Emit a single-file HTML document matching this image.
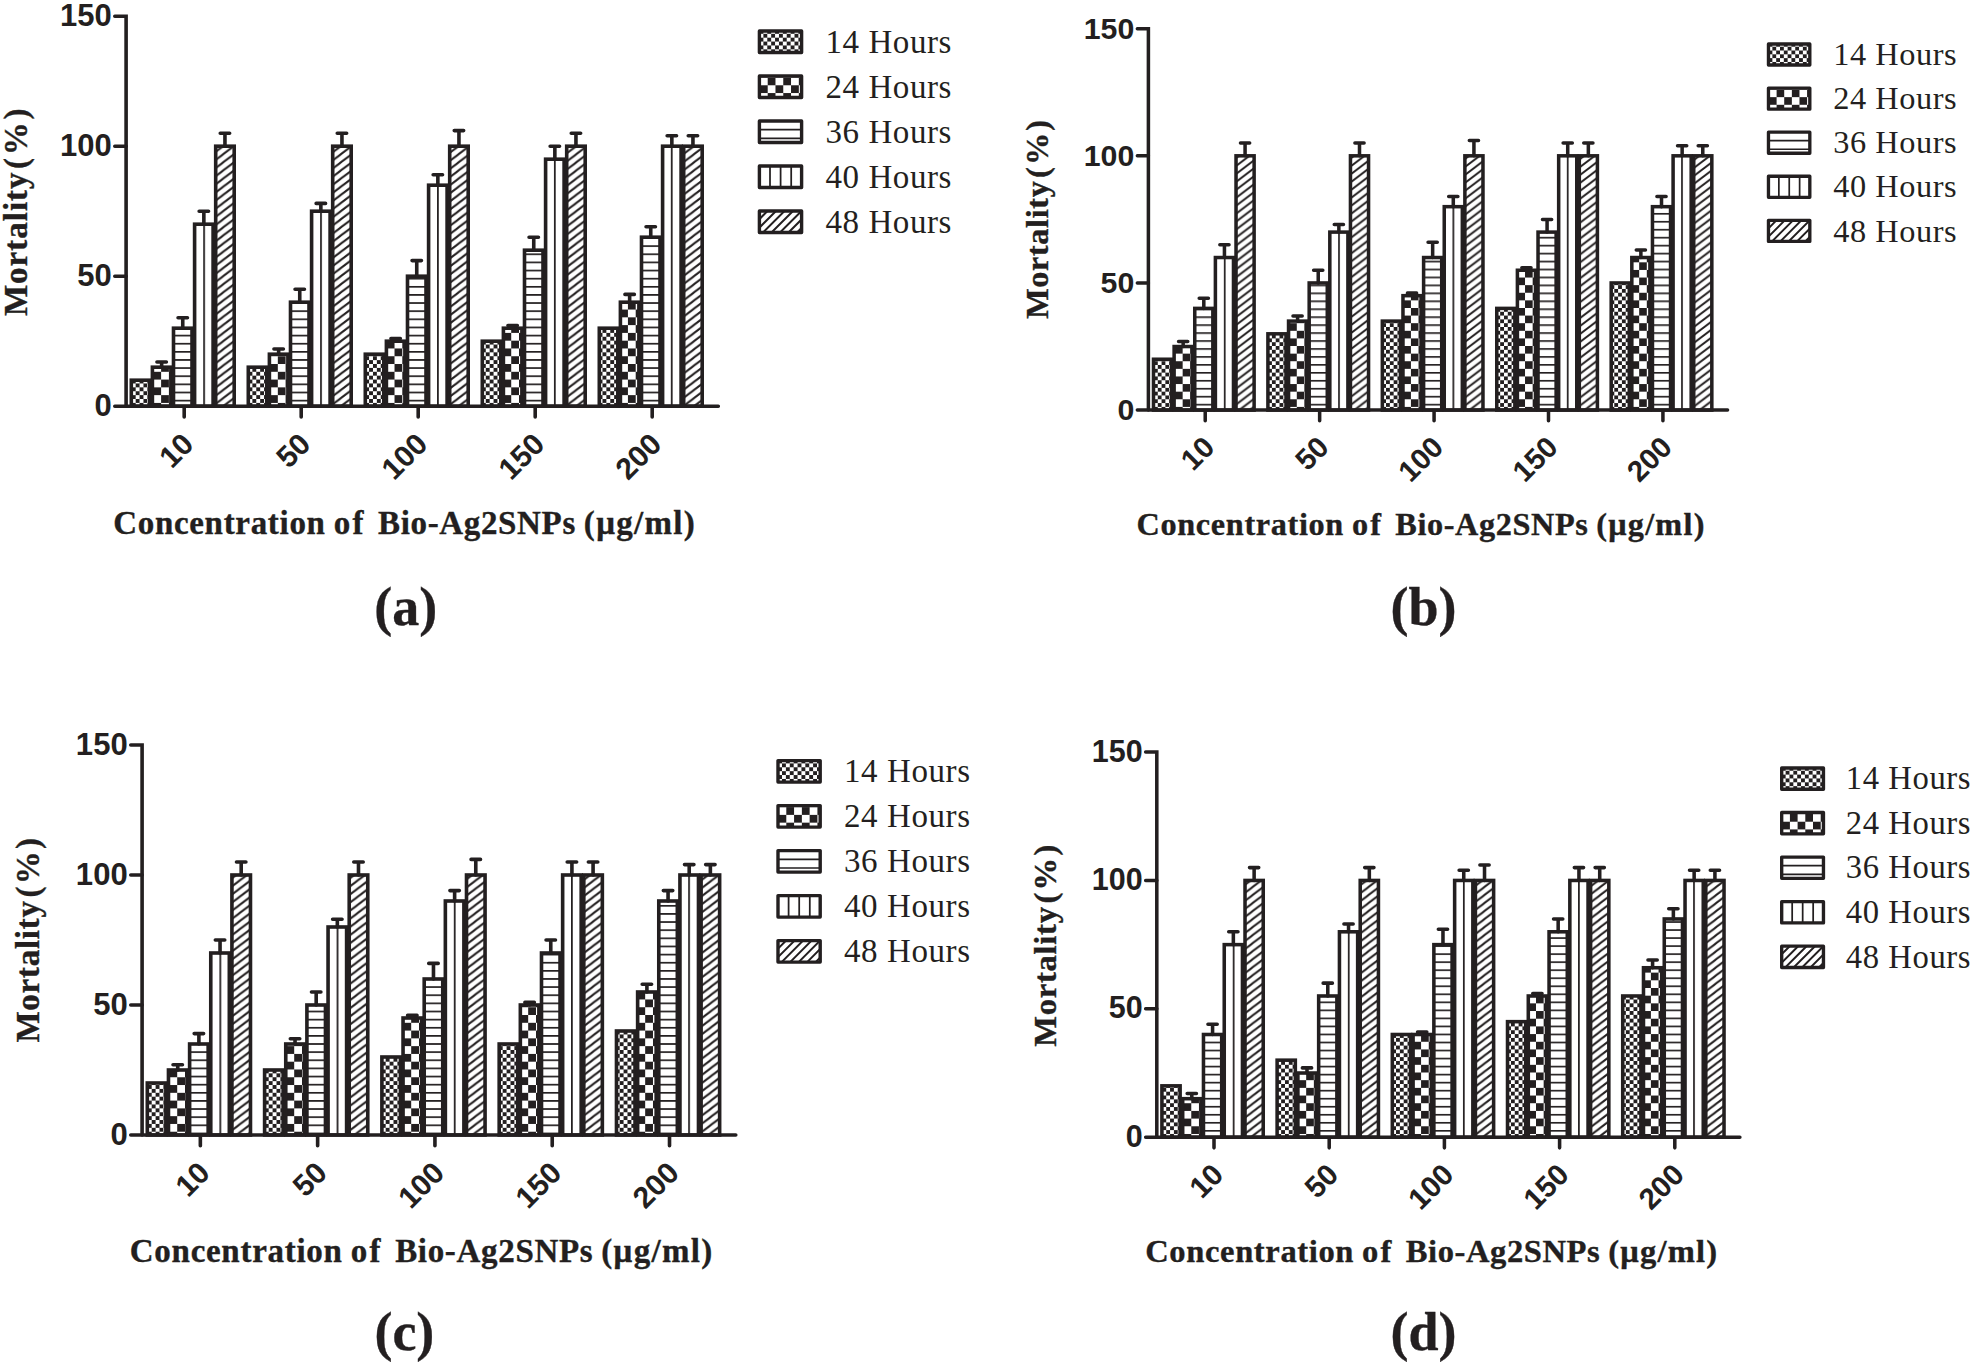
<!DOCTYPE html>
<html lang="en"><head><meta charset="utf-8"><title>Mortality (%) vs Concentration of Bio-Ag2SNPs</title>
<style>html,body{margin:0;padding:0;background:#fff}body{width:1970px;height:1368px;overflow:hidden}svg{display:block}.sans{font-family:"Liberation Sans",Arial,Helvetica,sans-serif;font-weight:700}.serif{font-family:"Liberation Serif","Times New Roman",Times,serif}.b{font-weight:700;stroke:#231f20;stroke-width:.35px}text{fill:#231f20}</style></head><body>
<svg width="1970" height="1368" viewBox="0 0 1970 1368">
<rect width="1970" height="1368" fill="#fff"/>
<defs>
<pattern id="p14" patternUnits="userSpaceOnUse" width="7.78" height="7.78" patternTransform="translate(1.8 0.6)"><rect width="7.78" height="7.78" fill="#fff"/><rect width="3.89" height="3.89" fill="#231f20"/><rect x="3.89" y="3.89" width="3.89" height="3.89" fill="#231f20"/></pattern>
<pattern id="p24" patternUnits="userSpaceOnUse" width="15.56" height="15.56" patternTransform="translate(3.9 4.5)"><rect width="15.56" height="15.56" fill="#fff"/><rect width="7.78" height="7.78" fill="#231f20"/><rect x="7.78" y="7.78" width="7.78" height="7.78" fill="#231f20"/></pattern>
<pattern id="p36a" patternUnits="userSpaceOnUse" width="20" height="8.13" patternTransform="translate(0 1.68)"><rect width="20" height="8.13" fill="#fff"/><rect y="0" width="20" height="1.7" fill="#231f20"/></pattern>
<pattern id="p36b" patternUnits="userSpaceOnUse" width="20" height="8.13" patternTransform="translate(0 1.68)"><rect width="20" height="8.13" fill="#fff"/><rect y="0" width="20" height="1.7" fill="#231f20"/></pattern>
<pattern id="p36c" patternUnits="userSpaceOnUse" width="20" height="8.13" patternTransform="translate(0 5.71)"><rect width="20" height="8.13" fill="#fff"/><rect y="0" width="20" height="1.7" fill="#231f20"/></pattern>
<pattern id="p36d" patternUnits="userSpaceOnUse" width="20" height="8.13" patternTransform="translate(0 0.78)"><rect width="20" height="8.13" fill="#fff"/><rect y="0" width="20" height="1.7" fill="#231f20"/></pattern>
<pattern id="p40" patternUnits="userSpaceOnUse" width="11.69" height="20" patternTransform="translate(6.99 0)"><rect width="11.69" height="20" fill="#fff"/><rect width="1.75" height="20" fill="#231f20"/></pattern>
<pattern id="p48a" patternUnits="userSpaceOnUse" width="10.7" height="8.13" patternTransform="translate(0 0.66)"><rect width="10.7" height="8.13" fill="#fff"/><path d="M-10.7 8.13 L10.7 -8.13 M-10.7 16.26 L21.4 -8.13 M0 16.26 L21.4 0" stroke="#231f20" stroke-width="2" fill="none"/></pattern>
<pattern id="p48b" patternUnits="userSpaceOnUse" width="10.7" height="8.13" patternTransform="translate(0 5.5)"><rect width="10.7" height="8.13" fill="#fff"/><path d="M-10.7 8.13 L10.7 -8.13 M-10.7 16.26 L21.4 -8.13 M0 16.26 L21.4 0" stroke="#231f20" stroke-width="2" fill="none"/></pattern>
<pattern id="p48c" patternUnits="userSpaceOnUse" width="10.7" height="8.13" patternTransform="translate(0 6.46)"><rect width="10.7" height="8.13" fill="#fff"/><path d="M-10.7 8.13 L10.7 -8.13 M-10.7 16.26 L21.4 -8.13 M0 16.26 L21.4 0" stroke="#231f20" stroke-width="2" fill="none"/></pattern>
<pattern id="p48d" patternUnits="userSpaceOnUse" width="10.7" height="8.13" patternTransform="translate(0 7.6)"><rect width="10.7" height="8.13" fill="#fff"/><path d="M-10.7 8.13 L10.7 -8.13 M-10.7 16.26 L21.4 -8.13 M0 16.26 L21.4 0" stroke="#231f20" stroke-width="2" fill="none"/></pattern>
<pattern id="l24" patternUnits="userSpaceOnUse" width="15.56" height="15.56" patternTransform="translate(10 3.2)"><rect width="15.56" height="15.56" fill="#fff"/><rect width="7.78" height="7.78" fill="#231f20"/><rect x="7.78" y="7.78" width="7.78" height="7.78" fill="#231f20"/></pattern>
</defs>
<g transform="translate(126.1 406.2) scale(1.0000 1.0000)">
<g stroke="#231f20" stroke-width="3.6" stroke-linejoin="miter">
<rect x="5.2" y="-26" width="18.5" height="26" fill="url(#p14)"/>
<rect x="26.3" y="-39" width="18.5" height="39" fill="url(#p24)"/>
<rect x="47.4" y="-78" width="18.5" height="78" fill="url(#p36a)"/>
<rect x="68.5" y="-182" width="18.5" height="182" fill="url(#p40)"/>
<rect x="89.6" y="-260" width="18.5" height="260" fill="url(#p48a)"/>
<rect x="122.2" y="-39" width="18.5" height="39" fill="url(#p14)"/>
<rect x="143.3" y="-52" width="18.5" height="52" fill="url(#p24)"/>
<rect x="164.4" y="-104" width="18.5" height="104" fill="url(#p36a)"/>
<rect x="185.5" y="-195" width="18.5" height="195" fill="url(#p40)"/>
<rect x="206.6" y="-260" width="18.5" height="260" fill="url(#p48a)"/>
<rect x="239.2" y="-52" width="18.5" height="52" fill="url(#p14)"/>
<rect x="260.3" y="-65" width="18.5" height="65" fill="url(#p24)"/>
<rect x="281.4" y="-130" width="18.5" height="130" fill="url(#p36a)"/>
<rect x="302.5" y="-221" width="18.5" height="221" fill="url(#p40)"/>
<rect x="323.6" y="-260" width="18.5" height="260" fill="url(#p48a)"/>
<rect x="356.2" y="-65" width="18.5" height="65" fill="url(#p14)"/>
<rect x="377.3" y="-78" width="18.5" height="78" fill="url(#p24)"/>
<rect x="398.4" y="-156" width="18.5" height="156" fill="url(#p36a)"/>
<rect x="419.5" y="-247" width="18.5" height="247" fill="url(#p40)"/>
<rect x="440.6" y="-260" width="18.5" height="260" fill="url(#p48a)"/>
<rect x="473.2" y="-78" width="18.5" height="78" fill="url(#p14)"/>
<rect x="494.3" y="-104" width="18.5" height="104" fill="url(#p24)"/>
<rect x="515.4" y="-169" width="18.5" height="169" fill="url(#p36a)"/>
<rect x="536.5" y="-260" width="18.5" height="260" fill="url(#p40)"/>
<rect x="557.6" y="-260" width="18.5" height="260" fill="url(#p48a)"/>
<path d="M35.55 -39V-44.2M30.85 -44.2H40.25M56.65 -78V-88.4M51.95 -88.4H61.35M77.75 -182V-195M73.05 -195H82.45M98.85 -260V-273M94.15 -273H103.55M152.55 -52V-57.2M147.85 -57.2H157.25M173.65 -104V-117M168.95 -117H178.35M194.75 -195V-202.8M190.05 -202.8H199.45M215.85 -260V-273M211.15 -273H220.55M269.55 -65V-67.6M264.85 -67.6H274.25M290.65 -130V-145.6M285.95 -145.6H295.35M311.75 -221V-231.4M307.05 -231.4H316.45M332.85 -260V-275.6M328.15 -275.6H337.55M386.55 -78V-80.6M381.85 -80.6H391.25M407.65 -156V-169M402.95 -169H412.35M428.75 -247V-260M424.05 -260H433.45M449.85 -260V-273M445.15 -273H454.55M503.55 -104V-111.8M498.85 -111.8H508.25M524.65 -169V-179.4M519.95 -179.4H529.35M545.75 -260V-270.4M541.05 -270.4H550.45M566.85 -260V-270.4M562.15 -270.4H571.55" fill="none" stroke-linecap="round"/>
<path d="M-11.3 -390H0V0" fill="none" stroke-linecap="round"/>
<path d="M-11.3 0H592.2M-11.3 -130H0M-11.3 -260H0M58.1 0V10.8M175.1 0V10.8M292.1 0V10.8M409.1 0V10.8M526.1 0V10.8" fill="none" stroke-linecap="round"/>
</g>
<g class="sans" font-size="31" text-anchor="end">
<text x="-14.4" y="9.7">0</text>
<text x="-14.4" y="-120.3">50</text>
<text x="-14.4" y="-250.3">100</text>
<text x="-14.4" y="-380.3">150</text>
</g>
<g class="sans" font-size="30" text-anchor="end">
<text transform="translate(69.3 39.7) rotate(-45)">10</text>
<text transform="translate(186.3 39.7) rotate(-45)">50</text>
<text transform="translate(303.3 39.7) rotate(-45)">100</text>
<text transform="translate(420.3 39.7) rotate(-45)">150</text>
<text transform="translate(537.3 39.7) rotate(-45)">200</text>
</g>
</g>
<g transform="translate(757.7 29.3) scale(1)">
<g transform="translate(0 0)">
<rect x="1.7" y="1.7" width="42.2" height="21.5" fill="#fff"/>
<rect x="1.7" y="1.7" width="42.2" height="21.5" fill="url(#p14)"/>
<rect x="1.7" y="1.7" width="42.2" height="21.5" fill="none" stroke="#231f20" stroke-width="3.4" stroke-linejoin="round"/>
<text class="serif" font-size="33" x="67.7" y="23.3" textLength="126" lengthAdjust="spacing">14 Hours</text>
</g>
<g transform="translate(0 45)">
<rect x="1.7" y="1.7" width="42.2" height="21.5" fill="#fff"/>
<rect x="1.7" y="1.7" width="42.2" height="21.5" fill="url(#l24)"/>
<rect x="1.7" y="1.7" width="42.2" height="21.5" fill="none" stroke="#231f20" stroke-width="3.4" stroke-linejoin="round"/>
<text class="serif" font-size="33" x="67.7" y="23.3" textLength="126" lengthAdjust="spacing">24 Hours</text>
</g>
<g transform="translate(0 90)">
<rect x="1.7" y="1.7" width="42.2" height="21.5" fill="#fff"/>
<path d="M2 10.4H44M2 19.1H44" stroke="#231f20" stroke-width="1.7" fill="none"/>
<rect x="1.7" y="1.7" width="42.2" height="21.5" fill="none" stroke="#231f20" stroke-width="3.4" stroke-linejoin="round"/>
<text class="serif" font-size="33" x="67.7" y="23.3" textLength="126" lengthAdjust="spacing">36 Hours</text>
</g>
<g transform="translate(0 135)">
<rect x="1.7" y="1.7" width="42.2" height="21.5" fill="#fff"/>
<path d="M12.3 2V23M22.9 2V23M33.5 2V23" stroke="#231f20" stroke-width="1.75" fill="none"/>
<rect x="1.7" y="1.7" width="42.2" height="21.5" fill="none" stroke="#231f20" stroke-width="3.4" stroke-linejoin="round"/>
<text class="serif" font-size="33" x="67.7" y="23.3" textLength="126" lengthAdjust="spacing">40 Hours</text>
</g>
<g transform="translate(0 180)">
<rect x="1.7" y="1.7" width="42.2" height="21.5" fill="#fff"/>
<clipPath id="lca"><rect x="1.7" y="1.7" width="42.2" height="21.5"/></clipPath>
<path d="M-28.7 23.2L-7.2 1.7M-20.2 23.2L1.3 1.7M-11.7 23.2L9.8 1.7M-3.2 23.2L18.3 1.7M5.3 23.2L26.8 1.7M13.8 23.2L35.3 1.7M22.3 23.2L43.8 1.7M30.8 23.2L52.3 1.7M39.3 23.2L60.8 1.7M47.8 23.2L69.3 1.7" stroke="#231f20" stroke-width="2" fill="none" clip-path="url(#lca)"/>
<rect x="1.7" y="1.7" width="42.2" height="21.5" fill="none" stroke="#231f20" stroke-width="3.4" stroke-linejoin="round"/>
<text class="serif" font-size="33" x="67.7" y="23.3" textLength="126" lengthAdjust="spacing">48 Hours</text>
</g>
</g>
<g class="serif b" font-size="33" transform="translate(27.4 315.45) rotate(-90)">
<text x="-0.6" y="0" textLength="143.63" lengthAdjust="spacing">Mortality</text>
<text x="146.53" y="0" textLength="60.47" lengthAdjust="spacing">(%)</text>
</g>
<g class="serif b" font-size="33">
<text x="113.2" y="533.5" textLength="211.73" lengthAdjust="spacing">Concentration</text>
<text x="333.72" y="533.5" textLength="29.79" lengthAdjust="spacing">of</text>
<text x="378.11" y="533.5" textLength="197.13" lengthAdjust="spacing">Bio-Ag2SNPs</text>
<text x="583.84" y="533.5" textLength="110.86" lengthAdjust="spacing">(μg/ml)</text>
</g>
<text class="serif b" font-size="54" text-anchor="middle" x="405.7" y="624.5">(a)</text>
<g transform="translate(1148.4 410.1) scale(0.9780 0.9780)">
<g stroke="#231f20" stroke-width="3.6" stroke-linejoin="miter">
<rect x="5.2" y="-52" width="18.5" height="52" fill="url(#p14)"/>
<rect x="26.3" y="-65" width="18.5" height="65" fill="url(#p24)"/>
<rect x="47.4" y="-104" width="18.5" height="104" fill="url(#p36b)"/>
<rect x="68.5" y="-156" width="18.5" height="156" fill="url(#p40)"/>
<rect x="89.6" y="-260" width="18.5" height="260" fill="url(#p48b)"/>
<rect x="122.2" y="-78" width="18.5" height="78" fill="url(#p14)"/>
<rect x="143.3" y="-91" width="18.5" height="91" fill="url(#p24)"/>
<rect x="164.4" y="-130" width="18.5" height="130" fill="url(#p36b)"/>
<rect x="185.5" y="-182" width="18.5" height="182" fill="url(#p40)"/>
<rect x="206.6" y="-260" width="18.5" height="260" fill="url(#p48b)"/>
<rect x="239.2" y="-91" width="18.5" height="91" fill="url(#p14)"/>
<rect x="260.3" y="-117" width="18.5" height="117" fill="url(#p24)"/>
<rect x="281.4" y="-156" width="18.5" height="156" fill="url(#p36b)"/>
<rect x="302.5" y="-208" width="18.5" height="208" fill="url(#p40)"/>
<rect x="323.6" y="-260" width="18.5" height="260" fill="url(#p48b)"/>
<rect x="356.2" y="-104" width="18.5" height="104" fill="url(#p14)"/>
<rect x="377.3" y="-143" width="18.5" height="143" fill="url(#p24)"/>
<rect x="398.4" y="-182" width="18.5" height="182" fill="url(#p36b)"/>
<rect x="419.5" y="-260" width="18.5" height="260" fill="url(#p40)"/>
<rect x="440.6" y="-260" width="18.5" height="260" fill="url(#p48b)"/>
<rect x="473.2" y="-130" width="18.5" height="130" fill="url(#p14)"/>
<rect x="494.3" y="-156" width="18.5" height="156" fill="url(#p24)"/>
<rect x="515.4" y="-208" width="18.5" height="208" fill="url(#p36b)"/>
<rect x="536.5" y="-260" width="18.5" height="260" fill="url(#p40)"/>
<rect x="557.6" y="-260" width="18.5" height="260" fill="url(#p48b)"/>
<path d="M35.55 -65V-70.2M30.85 -70.2H40.25M56.65 -104V-114.4M51.95 -114.4H61.35M77.75 -156V-169M73.05 -169H82.45M98.85 -260V-273M94.15 -273H103.55M152.55 -91V-96.2M147.85 -96.2H157.25M173.65 -130V-143M168.95 -143H178.35M194.75 -182V-189.8M190.05 -189.8H199.45M215.85 -260V-273M211.15 -273H220.55M269.55 -117V-119.6M264.85 -119.6H274.25M290.65 -156V-171.6M285.95 -171.6H295.35M311.75 -208V-218.4M307.05 -218.4H316.45M332.85 -260V-275.6M328.15 -275.6H337.55M386.55 -143V-145.6M381.85 -145.6H391.25M407.65 -182V-195M402.95 -195H412.35M428.75 -260V-273M424.05 -273H433.45M449.85 -260V-273M445.15 -273H454.55M503.55 -156V-163.8M498.85 -163.8H508.25M524.65 -208V-218.4M519.95 -218.4H529.35M545.75 -260V-270.4M541.05 -270.4H550.45M566.85 -260V-270.4M562.15 -270.4H571.55" fill="none" stroke-linecap="round"/>
<path d="M-11.3 -390H0V0" fill="none" stroke-linecap="round"/>
<path d="M-11.3 0H592.2M-11.3 -130H0M-11.3 -260H0M58.1 0V10.8M175.1 0V10.8M292.1 0V10.8M409.1 0V10.8M526.1 0V10.8" fill="none" stroke-linecap="round"/>
</g>
<g class="sans" font-size="31" text-anchor="end">
<text x="-14.4" y="10.1">0</text>
<text x="-14.4" y="-119.9">50</text>
<text x="-14.4" y="-249.9">100</text>
<text x="-14.4" y="-379.9">150</text>
</g>
<g class="sans" font-size="30" text-anchor="end">
<text transform="translate(69.3 39.7) rotate(-45)">10</text>
<text transform="translate(186.3 39.7) rotate(-45)">50</text>
<text transform="translate(303.3 39.7) rotate(-45)">100</text>
<text transform="translate(420.3 39.7) rotate(-45)">150</text>
<text transform="translate(537.3 39.7) rotate(-45)">200</text>
</g>
</g>
<g transform="translate(1766.8 42.3) scale(0.98)">
<g transform="translate(0 0)">
<rect x="1.7" y="1.7" width="42.2" height="21.5" fill="#fff"/>
<rect x="1.7" y="1.7" width="42.2" height="21.5" fill="url(#p14)"/>
<rect x="1.7" y="1.7" width="42.2" height="21.5" fill="none" stroke="#231f20" stroke-width="3.4" stroke-linejoin="round"/>
<text class="serif" font-size="33" x="67.7" y="23.3" textLength="126" lengthAdjust="spacing">14 Hours</text>
</g>
<g transform="translate(0 45)">
<rect x="1.7" y="1.7" width="42.2" height="21.5" fill="#fff"/>
<rect x="1.7" y="1.7" width="42.2" height="21.5" fill="url(#l24)"/>
<rect x="1.7" y="1.7" width="42.2" height="21.5" fill="none" stroke="#231f20" stroke-width="3.4" stroke-linejoin="round"/>
<text class="serif" font-size="33" x="67.7" y="23.3" textLength="126" lengthAdjust="spacing">24 Hours</text>
</g>
<g transform="translate(0 90)">
<rect x="1.7" y="1.7" width="42.2" height="21.5" fill="#fff"/>
<path d="M2 10.4H44M2 19.1H44" stroke="#231f20" stroke-width="1.7" fill="none"/>
<rect x="1.7" y="1.7" width="42.2" height="21.5" fill="none" stroke="#231f20" stroke-width="3.4" stroke-linejoin="round"/>
<text class="serif" font-size="33" x="67.7" y="23.3" textLength="126" lengthAdjust="spacing">36 Hours</text>
</g>
<g transform="translate(0 135)">
<rect x="1.7" y="1.7" width="42.2" height="21.5" fill="#fff"/>
<path d="M12.3 2V23M22.9 2V23M33.5 2V23" stroke="#231f20" stroke-width="1.75" fill="none"/>
<rect x="1.7" y="1.7" width="42.2" height="21.5" fill="none" stroke="#231f20" stroke-width="3.4" stroke-linejoin="round"/>
<text class="serif" font-size="33" x="67.7" y="23.3" textLength="126" lengthAdjust="spacing">40 Hours</text>
</g>
<g transform="translate(0 180)">
<rect x="1.7" y="1.7" width="42.2" height="21.5" fill="#fff"/>
<clipPath id="lcb"><rect x="1.7" y="1.7" width="42.2" height="21.5"/></clipPath>
<path d="M-28.7 23.2L-7.2 1.7M-20.2 23.2L1.3 1.7M-11.7 23.2L9.8 1.7M-3.2 23.2L18.3 1.7M5.3 23.2L26.8 1.7M13.8 23.2L35.3 1.7M22.3 23.2L43.8 1.7M30.8 23.2L52.3 1.7M39.3 23.2L60.8 1.7M47.8 23.2L69.3 1.7" stroke="#231f20" stroke-width="2" fill="none" clip-path="url(#lcb)"/>
<rect x="1.7" y="1.7" width="42.2" height="21.5" fill="none" stroke="#231f20" stroke-width="3.4" stroke-linejoin="round"/>
<text class="serif" font-size="33" x="67.7" y="23.3" textLength="126" lengthAdjust="spacing">48 Hours</text>
</g>
</g>
<g class="serif b" font-size="32.27" transform="translate(1048.4 318.2) rotate(-90)">
<text x="-0.59" y="0" textLength="137.56" lengthAdjust="spacing">Mortality</text>
<text x="140.29" y="0" textLength="57.97" lengthAdjust="spacing">(%)</text>
</g>
<g class="serif b" font-size="32.27">
<text x="1136.52" y="534.6" textLength="206.79" lengthAdjust="spacing">Concentration</text>
<text x="1351.9" y="534.6" textLength="29.1" lengthAdjust="spacing">of</text>
<text x="1395.25" y="534.6" textLength="192.54" lengthAdjust="spacing">Bio-Ag2SNPs</text>
<text x="1596.19" y="534.6" textLength="108.28" lengthAdjust="spacing">(μg/ml)</text>
</g>
<text class="serif b" font-size="54" text-anchor="middle" x="1423.5" y="624.5">(b)</text>
<g transform="translate(142.1 1135) scale(1.0025 1.0000)">
<g stroke="#231f20" stroke-width="3.6" stroke-linejoin="miter">
<rect x="5.2" y="-52" width="18.5" height="52" fill="url(#p14)"/>
<rect x="26.3" y="-65" width="18.5" height="65" fill="url(#p24)"/>
<rect x="47.4" y="-91" width="18.5" height="91" fill="url(#p36c)"/>
<rect x="68.5" y="-182" width="18.5" height="182" fill="url(#p40)"/>
<rect x="89.6" y="-260" width="18.5" height="260" fill="url(#p48c)"/>
<rect x="122.2" y="-65" width="18.5" height="65" fill="url(#p14)"/>
<rect x="143.3" y="-91" width="18.5" height="91" fill="url(#p24)"/>
<rect x="164.4" y="-130" width="18.5" height="130" fill="url(#p36c)"/>
<rect x="185.5" y="-208" width="18.5" height="208" fill="url(#p40)"/>
<rect x="206.6" y="-260" width="18.5" height="260" fill="url(#p48c)"/>
<rect x="239.2" y="-78" width="18.5" height="78" fill="url(#p14)"/>
<rect x="260.3" y="-117" width="18.5" height="117" fill="url(#p24)"/>
<rect x="281.4" y="-156" width="18.5" height="156" fill="url(#p36c)"/>
<rect x="302.5" y="-234" width="18.5" height="234" fill="url(#p40)"/>
<rect x="323.6" y="-260" width="18.5" height="260" fill="url(#p48c)"/>
<rect x="356.2" y="-91" width="18.5" height="91" fill="url(#p14)"/>
<rect x="377.3" y="-130" width="18.5" height="130" fill="url(#p24)"/>
<rect x="398.4" y="-182" width="18.5" height="182" fill="url(#p36c)"/>
<rect x="419.5" y="-260" width="18.5" height="260" fill="url(#p40)"/>
<rect x="440.6" y="-260" width="18.5" height="260" fill="url(#p48c)"/>
<rect x="473.2" y="-104" width="18.5" height="104" fill="url(#p14)"/>
<rect x="494.3" y="-143" width="18.5" height="143" fill="url(#p24)"/>
<rect x="515.4" y="-234" width="18.5" height="234" fill="url(#p36c)"/>
<rect x="536.5" y="-260" width="18.5" height="260" fill="url(#p40)"/>
<rect x="557.6" y="-260" width="18.5" height="260" fill="url(#p48c)"/>
<path d="M35.55 -65V-70.2M30.85 -70.2H40.25M56.65 -91V-101.4M51.95 -101.4H61.35M77.75 -182V-195M73.05 -195H82.45M98.85 -260V-273M94.15 -273H103.55M152.55 -91V-96.2M147.85 -96.2H157.25M173.65 -130V-143M168.95 -143H178.35M194.75 -208V-215.8M190.05 -215.8H199.45M215.85 -260V-273M211.15 -273H220.55M269.55 -117V-119.6M264.85 -119.6H274.25M290.65 -156V-171.6M285.95 -171.6H295.35M311.75 -234V-244.4M307.05 -244.4H316.45M332.85 -260V-275.6M328.15 -275.6H337.55M386.55 -130V-132.6M381.85 -132.6H391.25M407.65 -182V-195M402.95 -195H412.35M428.75 -260V-273M424.05 -273H433.45M449.85 -260V-273M445.15 -273H454.55M503.55 -143V-150.8M498.85 -150.8H508.25M524.65 -234V-244.4M519.95 -244.4H529.35M545.75 -260V-270.4M541.05 -270.4H550.45M566.85 -260V-270.4M562.15 -270.4H571.55" fill="none" stroke-linecap="round"/>
<path d="M-11.3 -390H0V0" fill="none" stroke-linecap="round"/>
<path d="M-11.3 0H592.2M-11.3 -130H0M-11.3 -260H0M58.1 0V10.8M175.1 0V10.8M292.1 0V10.8M409.1 0V10.8M526.1 0V10.8" fill="none" stroke-linecap="round"/>
</g>
<g class="sans" font-size="31" text-anchor="end">
<text x="-14.4" y="9.7">0</text>
<text x="-14.4" y="-120.3">50</text>
<text x="-14.4" y="-250.3">100</text>
<text x="-14.4" y="-380.3">150</text>
</g>
<g class="sans" font-size="30" text-anchor="end">
<text transform="translate(69.3 39.7) rotate(-45)">10</text>
<text transform="translate(186.3 39.7) rotate(-45)">50</text>
<text transform="translate(303.3 39.7) rotate(-45)">100</text>
<text transform="translate(420.3 39.7) rotate(-45)">150</text>
<text transform="translate(537.3 39.7) rotate(-45)">200</text>
</g>
</g>
<g transform="translate(776.3 758.9) scale(1)">
<g transform="translate(0 0)">
<rect x="1.7" y="1.7" width="42.2" height="21.5" fill="#fff"/>
<rect x="1.7" y="1.7" width="42.2" height="21.5" fill="url(#p14)"/>
<rect x="1.7" y="1.7" width="42.2" height="21.5" fill="none" stroke="#231f20" stroke-width="3.4" stroke-linejoin="round"/>
<text class="serif" font-size="33" x="67.7" y="23.3" textLength="126" lengthAdjust="spacing">14 Hours</text>
</g>
<g transform="translate(0 45)">
<rect x="1.7" y="1.7" width="42.2" height="21.5" fill="#fff"/>
<rect x="1.7" y="1.7" width="42.2" height="21.5" fill="url(#l24)"/>
<rect x="1.7" y="1.7" width="42.2" height="21.5" fill="none" stroke="#231f20" stroke-width="3.4" stroke-linejoin="round"/>
<text class="serif" font-size="33" x="67.7" y="23.3" textLength="126" lengthAdjust="spacing">24 Hours</text>
</g>
<g transform="translate(0 90)">
<rect x="1.7" y="1.7" width="42.2" height="21.5" fill="#fff"/>
<path d="M2 10.4H44M2 19.1H44" stroke="#231f20" stroke-width="1.7" fill="none"/>
<rect x="1.7" y="1.7" width="42.2" height="21.5" fill="none" stroke="#231f20" stroke-width="3.4" stroke-linejoin="round"/>
<text class="serif" font-size="33" x="67.7" y="23.3" textLength="126" lengthAdjust="spacing">36 Hours</text>
</g>
<g transform="translate(0 135)">
<rect x="1.7" y="1.7" width="42.2" height="21.5" fill="#fff"/>
<path d="M12.3 2V23M22.9 2V23M33.5 2V23" stroke="#231f20" stroke-width="1.75" fill="none"/>
<rect x="1.7" y="1.7" width="42.2" height="21.5" fill="none" stroke="#231f20" stroke-width="3.4" stroke-linejoin="round"/>
<text class="serif" font-size="33" x="67.7" y="23.3" textLength="126" lengthAdjust="spacing">40 Hours</text>
</g>
<g transform="translate(0 180)">
<rect x="1.7" y="1.7" width="42.2" height="21.5" fill="#fff"/>
<clipPath id="lcc"><rect x="1.7" y="1.7" width="42.2" height="21.5"/></clipPath>
<path d="M-28.7 23.2L-7.2 1.7M-20.2 23.2L1.3 1.7M-11.7 23.2L9.8 1.7M-3.2 23.2L18.3 1.7M5.3 23.2L26.8 1.7M13.8 23.2L35.3 1.7M22.3 23.2L43.8 1.7M30.8 23.2L52.3 1.7M39.3 23.2L60.8 1.7M47.8 23.2L69.3 1.7" stroke="#231f20" stroke-width="2" fill="none" clip-path="url(#lcc)"/>
<rect x="1.7" y="1.7" width="42.2" height="21.5" fill="none" stroke="#231f20" stroke-width="3.4" stroke-linejoin="round"/>
<text class="serif" font-size="33" x="67.7" y="23.3" textLength="126" lengthAdjust="spacing">48 Hours</text>
</g>
</g>
<g class="serif b" font-size="33" transform="translate(38.8 1042) rotate(-90)">
<text x="-0.6" y="0" textLength="141.61" lengthAdjust="spacing">Mortality</text>
<text x="144.44" y="0" textLength="59.66" lengthAdjust="spacing">(%)</text>
</g>
<g class="serif b" font-size="33">
<text x="129.8" y="1262" textLength="212.09" lengthAdjust="spacing">Concentration</text>
<text x="350.7" y="1262" textLength="29.84" lengthAdjust="spacing">of</text>
<text x="395.17" y="1262" textLength="197.47" lengthAdjust="spacing">Bio-Ag2SNPs</text>
<text x="601.25" y="1262" textLength="111.05" lengthAdjust="spacing">(μg/ml)</text>
</g>
<text class="serif b" font-size="54" text-anchor="middle" x="404.4" y="1350.3">(c)</text>
<g transform="translate(1156.8 1137.2) scale(0.9846 0.9875)">
<g stroke="#231f20" stroke-width="3.6" stroke-linejoin="miter">
<rect x="5.2" y="-52" width="18.5" height="52" fill="url(#p14)"/>
<rect x="26.3" y="-39" width="18.5" height="39" fill="url(#p24)"/>
<rect x="47.4" y="-104" width="18.5" height="104" fill="url(#p36d)"/>
<rect x="68.5" y="-195" width="18.5" height="195" fill="url(#p40)"/>
<rect x="89.6" y="-260" width="18.5" height="260" fill="url(#p48d)"/>
<rect x="122.2" y="-78" width="18.5" height="78" fill="url(#p14)"/>
<rect x="143.3" y="-65" width="18.5" height="65" fill="url(#p24)"/>
<rect x="164.4" y="-143" width="18.5" height="143" fill="url(#p36d)"/>
<rect x="185.5" y="-208" width="18.5" height="208" fill="url(#p40)"/>
<rect x="206.6" y="-260" width="18.5" height="260" fill="url(#p48d)"/>
<rect x="239.2" y="-104" width="18.5" height="104" fill="url(#p14)"/>
<rect x="260.3" y="-104" width="18.5" height="104" fill="url(#p24)"/>
<rect x="281.4" y="-195" width="18.5" height="195" fill="url(#p36d)"/>
<rect x="302.5" y="-260" width="18.5" height="260" fill="url(#p40)"/>
<rect x="323.6" y="-260" width="18.5" height="260" fill="url(#p48d)"/>
<rect x="356.2" y="-117" width="18.5" height="117" fill="url(#p14)"/>
<rect x="377.3" y="-143" width="18.5" height="143" fill="url(#p24)"/>
<rect x="398.4" y="-208" width="18.5" height="208" fill="url(#p36d)"/>
<rect x="419.5" y="-260" width="18.5" height="260" fill="url(#p40)"/>
<rect x="440.6" y="-260" width="18.5" height="260" fill="url(#p48d)"/>
<rect x="473.2" y="-143" width="18.5" height="143" fill="url(#p14)"/>
<rect x="494.3" y="-171.6" width="18.5" height="171.6" fill="url(#p24)"/>
<rect x="515.4" y="-221" width="18.5" height="221" fill="url(#p36d)"/>
<rect x="536.5" y="-260" width="18.5" height="260" fill="url(#p40)"/>
<rect x="557.6" y="-260" width="18.5" height="260" fill="url(#p48d)"/>
<path d="M35.55 -39V-44.2M30.85 -44.2H40.25M56.65 -104V-114.4M51.95 -114.4H61.35M77.75 -195V-208M73.05 -208H82.45M98.85 -260V-273M94.15 -273H103.55M152.55 -65V-70.2M147.85 -70.2H157.25M173.65 -143V-156M168.95 -156H178.35M194.75 -208V-215.8M190.05 -215.8H199.45M215.85 -260V-273M211.15 -273H220.55M269.55 -104V-106.6M264.85 -106.6H274.25M290.65 -195V-210.6M285.95 -210.6H295.35M311.75 -260V-270.4M307.05 -270.4H316.45M332.85 -260V-275.6M328.15 -275.6H337.55M386.55 -143V-145.6M381.85 -145.6H391.25M407.65 -208V-221M402.95 -221H412.35M428.75 -260V-273M424.05 -273H433.45M449.85 -260V-273M445.15 -273H454.55M503.55 -171.6V-179.4M498.85 -179.4H508.25M524.65 -221V-231.4M519.95 -231.4H529.35M545.75 -260V-270.4M541.05 -270.4H550.45M566.85 -260V-270.4M562.15 -270.4H571.55" fill="none" stroke-linecap="round"/>
<path d="M-11.3 -390H0V0" fill="none" stroke-linecap="round"/>
<path d="M-11.3 0H592.2M-11.3 -130H0M-11.3 -260H0M58.1 0V10.8M175.1 0V10.8M292.1 0V10.8M409.1 0V10.8M526.1 0V10.8" fill="none" stroke-linecap="round"/>
</g>
<g class="sans" font-size="31" text-anchor="end">
<text x="-14.4" y="9.7">0</text>
<text x="-14.4" y="-120.3">50</text>
<text x="-14.4" y="-250.3">100</text>
<text x="-14.4" y="-380.3">150</text>
</g>
<g class="sans" font-size="30" text-anchor="end">
<text transform="translate(69.3 39.7) rotate(-45)">10</text>
<text transform="translate(186.3 39.7) rotate(-45)">50</text>
<text transform="translate(303.3 39.7) rotate(-45)">100</text>
<text transform="translate(420.3 39.7) rotate(-45)">150</text>
<text transform="translate(537.3 39.7) rotate(-45)">200</text>
</g>
</g>
<g transform="translate(1780 766.3) scale(0.99)">
<g transform="translate(0 0)">
<rect x="1.7" y="1.7" width="42.2" height="21.5" fill="#fff"/>
<rect x="1.7" y="1.7" width="42.2" height="21.5" fill="url(#p14)"/>
<rect x="1.7" y="1.7" width="42.2" height="21.5" fill="none" stroke="#231f20" stroke-width="3.4" stroke-linejoin="round"/>
<text class="serif" font-size="33" x="66.4" y="23.3" textLength="126" lengthAdjust="spacing">14 Hours</text>
</g>
<g transform="translate(0 45)">
<rect x="1.7" y="1.7" width="42.2" height="21.5" fill="#fff"/>
<rect x="1.7" y="1.7" width="42.2" height="21.5" fill="url(#l24)"/>
<rect x="1.7" y="1.7" width="42.2" height="21.5" fill="none" stroke="#231f20" stroke-width="3.4" stroke-linejoin="round"/>
<text class="serif" font-size="33" x="66.4" y="23.3" textLength="126" lengthAdjust="spacing">24 Hours</text>
</g>
<g transform="translate(0 90)">
<rect x="1.7" y="1.7" width="42.2" height="21.5" fill="#fff"/>
<path d="M2 10.4H44M2 19.1H44" stroke="#231f20" stroke-width="1.7" fill="none"/>
<rect x="1.7" y="1.7" width="42.2" height="21.5" fill="none" stroke="#231f20" stroke-width="3.4" stroke-linejoin="round"/>
<text class="serif" font-size="33" x="66.4" y="23.3" textLength="126" lengthAdjust="spacing">36 Hours</text>
</g>
<g transform="translate(0 135)">
<rect x="1.7" y="1.7" width="42.2" height="21.5" fill="#fff"/>
<path d="M12.3 2V23M22.9 2V23M33.5 2V23" stroke="#231f20" stroke-width="1.75" fill="none"/>
<rect x="1.7" y="1.7" width="42.2" height="21.5" fill="none" stroke="#231f20" stroke-width="3.4" stroke-linejoin="round"/>
<text class="serif" font-size="33" x="66.4" y="23.3" textLength="126" lengthAdjust="spacing">40 Hours</text>
</g>
<g transform="translate(0 180)">
<rect x="1.7" y="1.7" width="42.2" height="21.5" fill="#fff"/>
<clipPath id="lcd"><rect x="1.7" y="1.7" width="42.2" height="21.5"/></clipPath>
<path d="M-28.7 23.2L-7.2 1.7M-20.2 23.2L1.3 1.7M-11.7 23.2L9.8 1.7M-3.2 23.2L18.3 1.7M5.3 23.2L26.8 1.7M13.8 23.2L35.3 1.7M22.3 23.2L43.8 1.7M30.8 23.2L52.3 1.7M39.3 23.2L60.8 1.7M47.8 23.2L69.3 1.7" stroke="#231f20" stroke-width="2" fill="none" clip-path="url(#lcd)"/>
<rect x="1.7" y="1.7" width="42.2" height="21.5" fill="none" stroke="#231f20" stroke-width="3.4" stroke-linejoin="round"/>
<text class="serif" font-size="33" x="66.4" y="23.3" textLength="126" lengthAdjust="spacing">48 Hours</text>
</g>
</g>
<g class="serif b" font-size="32.59" transform="translate(1056.2 1046.2) rotate(-90)">
<text x="-0.59" y="0" textLength="139.79" lengthAdjust="spacing">Mortality</text>
<text x="142.58" y="0" textLength="58.9" lengthAdjust="spacing">(%)</text>
</g>
<g class="serif b" font-size="32.59">
<text x="1145.21" y="1262" textLength="208.26" lengthAdjust="spacing">Concentration</text>
<text x="1362.12" y="1262" textLength="29.3" lengthAdjust="spacing">of</text>
<text x="1405.78" y="1262" textLength="193.9" lengthAdjust="spacing">Bio-Ag2SNPs</text>
<text x="1608.13" y="1262" textLength="109.06" lengthAdjust="spacing">(μg/ml)</text>
</g>
<text class="serif b" font-size="54" text-anchor="middle" x="1423.6" y="1350.3">(d)</text>
</svg></body></html>
